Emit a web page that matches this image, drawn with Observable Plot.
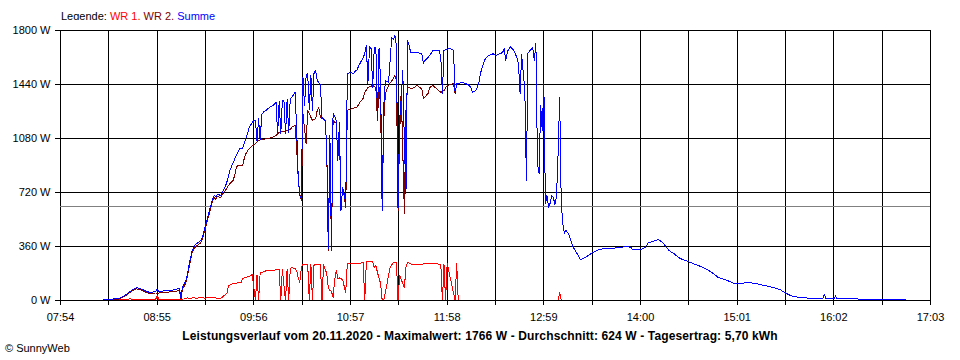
<!DOCTYPE html>
<html><head><meta charset="utf-8">
<script src="https://cdn.jsdelivr.net/npm/d3@7"></script>
<script src="https://cdn.jsdelivr.net/npm/@observablehq/plot@0.6"></script>
<style>
body{margin:0;background:#fff;font-family:"Liberation Sans",Arial,sans-serif;color:#000;}
#wrap{position:relative;width:960px;height:360px;overflow:hidden;background:#fff;}
#legend{position:absolute;left:61px;top:9px;font-size:11px;line-height:15px;white-space:nowrap;}
#chart{position:absolute;left:0;top:20px;}
#caption{position:absolute;left:0;width:960px;top:329px;text-align:center;font-weight:bold;font-size:12px;letter-spacing:0.13px;line-height:15px;white-space:nowrap;}
#copy{position:absolute;left:5px;top:341px;font-size:11px;line-height:15px;}
#chart svg path, #chart svg line{shape-rendering:crispEdges;}
</style></head><body>
<div id="wrap">
 <div id="legend">Legende: <span style="color:#ff0000">WR 1,</span> <span style="color:#800000">WR 2,</span> <span style="color:#0000ff">Summe</span></div>
 <div id="chart"></div>
 <div id="caption">Leistungsverlauf vom 20.11.2020 - Maximalwert: 1766 W - Durchschnitt: 624 W - Tagesertrag: 5,70 kWh</div>
 <div id="copy">© SunnyWeb</div>
</div>
<script>
// X tick labels (every 61 minutes), gridlines also halfway between
const xTickLabels = ["07:54","08:55","09:56","10:57","11:58","12:59","14:00","15:01","16:02","17:03"];
const yTicks = [0, 360, 720, 1080, 1440, 1800];
const average = 624;

// Summe (blue)
const summe = [["08:21",5],["08:26",8],["08:31",15],["08:34",30],["08:36",45],["08:38",60],["08:40",75],["08:42",85],["08:44",80],["08:46",72],["08:48",62],["08:50",55],["08:54",58],["08:55",75],["08:56",60],["09:00",65],["09:04",68],["09:07",75],["09:09",80],["09:10",20],["09:11",90],["09:12",110],["09:13",130],["09:14",170],["09:15",230],["09:16",280],["09:17",330],["09:18",355],["09:19",370],["09:20",380],["09:22",395],["09:23",410],["09:24",440],["09:25",480],["09:26",520],["09:27",560],["09:28",600],["09:29",640],["09:30",680],["09:31",700],["09:32",690],["09:33",710],["09:35",700],["09:36",720],["09:37",740],["09:38",760],["09:39",790],["09:40",830],["09:41",870],["09:42",895],["09:43",920],["09:44",945],["09:45",970],["09:46",990],["09:47",1010],["09:49",1015],["09:50",1050],["09:51",1080],["09:52",1110],["09:53",1150],["09:54",1170],["09:55",1185],["09:56",1200],["09:57",1200],["09:58",1065],["09:59",1210],["10:00",1070],["10:01",1240],["10:02",1255],["10:04",1270],["10:05",1280],["10:07",1295],["10:08",1300],["10:10",1320],["10:11",1110],["10:12",1325],["10:13",1110],["10:14",1330],["10:15",1335],["10:16",1110],["10:17",1340],["10:18",1120],["10:19",1345],["10:20",1355],["10:21",1370],["10:22",1390],["10:23",1150],["10:24",820],["10:25",700],["10:26",680],["10:27",1487],["10:28",1300],["10:29",1500],["10:30",1513],["10:31",1270],["10:32",1500],["10:33",1267],["10:34",1520],["10:35",1533],["10:36",1470],["10:37",1450],["10:38",1440],["10:39",1222],["10:40",1210],["10:41",1200],["10:42",1020],["10:43",345],["10:44",1100],["10:45",350],["10:46",1245],["10:47",1230],["10:48",1200],["10:49",930],["10:50",1190],["10:51",600],["10:52",750],["10:53",713],["10:54",640],["10:55",1513],["10:57",1520],["10:59",1513],["11:00",1530],["11:01",1533],["11:02",1560],["11:03",1580],["11:04",1600],["11:05",1620],["11:06",1645],["11:07",1700],["11:08",1447],["11:09",1690],["11:10",1680],["11:11",1420],["11:12",1687],["11:13",1690],["11:14",1222],["11:15",1680],["11:16",1460],["11:17",600],["11:18",1300],["11:19",1467],["11:21",1453],["11:22",1600],["11:23",1753],["11:24",1740],["11:25",1766],["11:26",1700],["11:27",620],["11:28",1200],["11:29",1350],["11:30",1533],["11:31",1045],["11:32",713],["11:33",1733],["11:34",1700],["11:35",1653],["11:38",1655],["11:40",1650],["11:42",1647],["11:43",1580],["11:44",1600],["11:46",1620],["11:48",1650],["11:49",1667],["11:53",1667],["11:54",1620],["11:55",1380],["11:56",1667],["11:58",1675],["12:00",1680],["12:02",1667],["12:03",1380],["12:04",1447],["12:06",1450],["12:08",1453],["12:11",1440],["12:13",1420],["12:14",1387],["12:16",1400],["12:17",1420],["12:18",1453],["12:19",1513],["12:20",1550],["12:21",1580],["12:22",1610],["12:24",1633],["12:27",1645],["12:29",1633],["12:30",1640],["12:33",1653],["12:34",1680],["12:35",1600],["12:36",1660],["12:38",1693],["12:40",1667],["12:42",1620],["12:43",1580],["12:44",1380],["12:45",1640],["12:46",1520],["12:47",1400],["12:48",800],["12:49",1650],["12:52",1687],["12:53",1600],["12:54",1713],["12:55",910],["12:56",847],["12:57",1300],["12:58",1133],["12:59",1447],["13:00",647],["13:01",700],["13:02",620],["13:03",650],["13:04",700],["13:05",687],["13:06",640],["13:07",690],["13:08",980],["13:09",1353],["13:10",647],["13:11",513],["13:12",447],["13:13",467],["13:14",453],["13:15",433],["13:16",400],["13:17",367],["13:18",347],["13:20",313],["13:22",273],["13:24",280],["13:27",300],["13:30",320],["13:34",340],["13:38",347],["13:42",347],["13:46",353],["13:52",360],["13:54",353],["13:55",340],["14:00",340],["14:03",353],["14:05",387],["14:08",393],["14:11",407],["14:14",387],["14:16",360],["14:18",333],["14:21",313],["14:25",280],["14:30",260],["14:33",247],["14:38",227],["14:42",207],["14:46",180],["14:49",153],["14:55",133],["14:59",113],["15:03",113],["15:08",120],["15:13",113],["15:18",100],["15:24",87],["15:28",73],["15:32",47],["15:36",27],["15:41",20],["15:49",13],["15:55",13],["15:56",40],["15:57",13],["16:02",12],["16:03",30],["16:04",12],["16:06",13],["16:17",10],["16:27",8],["16:47",7]];

// WR 2 (dark red)
const wr2 = [["08:21",3],["08:26",5],["08:31",10],["08:34",25],["08:36",40],["08:38",55],["08:40",68],["08:42",78],["08:44",72],["08:46",65],["08:48",55],["08:50",48],["08:54",50],["08:56",50],["09:00",55],["09:04",58],["09:07",62],["09:09",68],["09:10",10],["09:11",75],["09:12",95],["09:13",115],["09:14",155],["09:15",215],["09:16",265],["09:17",315],["09:18",340],["09:19",355],["09:20",365],["09:22",380],["09:23",395],["09:24",425],["09:25",465],["09:26",505],["09:27",545],["09:28",585],["09:29",625],["09:30",665],["09:31",685],["09:32",675],["09:33",695],["09:35",685],["09:36",705],["09:37",720],["09:38",733],["09:39",750],["09:40",767],["09:41",780],["09:42",790],["09:43",800],["09:44",840],["09:45",887],["09:46",900],["09:49",900],["09:50",950],["09:51",978],["09:53",1013],["09:55",1030],["09:57",1047],["09:59",1067],["10:02",1075],["10:05",1080],["10:08",1090],["10:10",1100],["10:12",1120],["10:15",1127],["10:17",1133],["10:19",1140],["10:20",1155],["10:22",1167],["10:23",1020],["10:24",820],["10:25",713],["10:26",667],["10:27",1245],["10:29",1045],["10:30",1267],["10:33",1200],["10:35",1213],["10:36",1267],["10:37",1287],["10:38",1222],["10:41",1200],["10:42",1020],["10:43",330],["10:44",1050],["10:45",330],["10:46",1200],["10:48",1180],["10:49",953],["10:50",1150],["10:51",600],["10:52",753],["10:53",700],["10:54",620],["10:55",1267],["10:58",1280],["11:01",1287],["11:03",1322],["11:05",1347],["11:06",1387],["11:08",1420],["11:11",1433],["11:13",1420],["11:14",1200],["11:15",1420],["11:16",1300],["11:17",600],["11:18",1200],["11:19",1380],["11:21",1433],["11:24",1480],["11:25",1500],["11:26",1467],["11:27",600],["11:28",1100],["11:29",1400],["11:31",580],["11:32",1267],["11:33",1420],["11:36",1413],["11:39",1433],["11:42",1410],["11:43",1347],["11:46",1380],["11:47",1420],["11:49",1433],["11:54",1387],["11:56",1400],["11:58",1433],["12:02",1447],["12:03",1380],["12:04",1447],["12:06",1450]];

// WR 1 (red)
const wr1 = [["08:21",2],["08:36",8],["08:38",12],["08:40",5],["08:54",5],["08:55",33],["08:56",8],["09:12",10],["09:14",18],["09:16",12],["09:18",20],["09:20",12],["09:22",22],["09:25",15],["09:28",22],["09:31",20],["09:34",10],["09:36",22],["09:39",47],["09:40",100],["09:43",113],["09:48",120],["09:49",147],["09:53",160],["09:55",173],["09:57",0],["09:58",173],["09:59",0],["10:00",185],["10:02",190],["10:04",200],["10:12",205],["10:13",0],["10:14",207],["10:16",0],["10:17",207],["10:18",0],["10:19",213],["10:20",220],["10:22",213],["10:23",200],["10:24",153],["10:25",120],["10:26",220],["10:27",240],["10:30",240],["10:31",0],["10:32",240],["10:33",0],["10:34",240],["10:38",240],["10:39",0],["10:40",240],["10:42",180],["10:43",87],["10:44",67],["10:45",60],["10:46",20],["10:47",133],["10:48",200],["10:49",147],["10:50",150],["10:52",140],["10:54",53],["10:55",247],["11:03",247],["11:04",253],["11:05",253],["11:06",0],["11:07",260],["11:11",260],["11:12",220],["11:13",235],["11:14",187],["11:16",113],["11:17",0],["11:18",0],["11:22",220],["11:24",253],["11:26",250],["11:27",0],["11:28",167],["11:31",87],["11:32",220],["11:33",253],["11:36",240],["11:50",247],["11:54",240],["11:55",0],["11:56",240],["11:57",0],["11:58",247],["12:03",0],["12:04",245],["12:05",0],["13:08",0],["13:09",55],["13:10",0]];

const toMin = s => { const [h, m] = s.split(":").map(Number); return h * 60 + m; };
const rows = arr => arr.map(([t, w]) => ({t: toMin(t), w}));

const labelMins = xTickLabels.map(toMin);
const gridMins = [];
labelMins.forEach((m, i) => { gridMins.push(m); if (i < labelMins.length - 1) gridMins.push((m + labelMins[i + 1]) / 2); });
const labelOf = new Map(labelMins.map((m, i) => [m, xTickLabels[i]]));

const chart = Plot.plot({
  width: 960,
  height: 310,
  marginLeft: 60,
  marginRight: 30,
  marginTop: 10,
  marginBottom: 30,
  style: {fontFamily: "'Liberation Sans', Arial, sans-serif", fontSize: "11px", background: "white", color: "black", overflow: "visible"},
  x: {domain: [labelMins[0], labelMins[labelMins.length - 1]]},
  y: {domain: [0, 1800]},
  marks: [
    Plot.ruleX(gridMins, {stroke: "black", strokeWidth: 1}),
    Plot.ruleY(yTicks, {stroke: "black", strokeWidth: 1}),
    Plot.ruleY([average], {stroke: "#808080", strokeWidth: 1}),
    Plot.line(rows(wr1), {x: "t", y: "w", stroke: "#ff0000", strokeWidth: 1}),
    Plot.line(rows(wr2), {x: "t", y: "w", stroke: "#800000", strokeWidth: 1}),
    Plot.line(rows(summe), {x: "t", y: "w", stroke: "#0000ff", strokeWidth: 1}),
    Plot.ruleY([0], {stroke: "black", strokeWidth: 1}),
    Plot.axisX({ticks: gridMins, tickSize: 5, tickPadding: 8, tickFormat: m => labelOf.get(m) ?? "", label: null}),
    Plot.axisY({ticks: yTicks, tickSize: 5, tickPadding: 5, tickFormat: d => d + " W", label: null})
  ]
});
document.getElementById("chart").appendChild(chart);
</script>
</body></html>
